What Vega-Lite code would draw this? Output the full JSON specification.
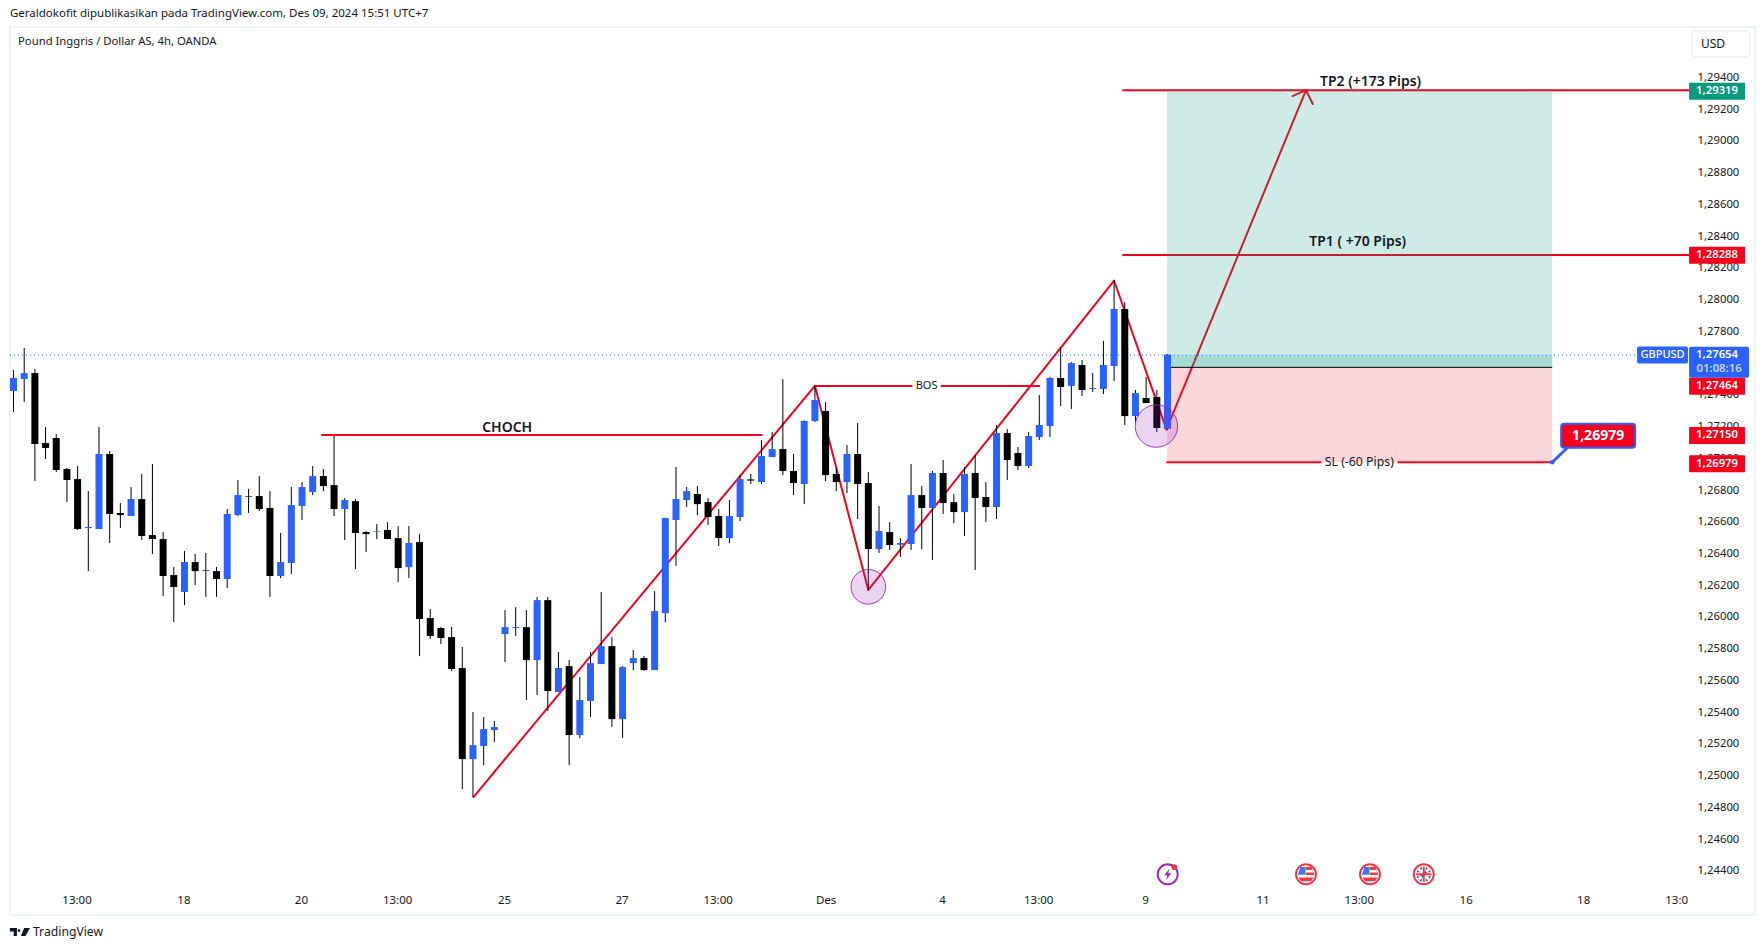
{
"$schema":"https://vega.github.io/schema/vega-lite/v6.json",
"width":1745,"height":888,
"autosize":{"type":"none"},
"padding":{"left":10,"top":27,"right":9,"bottom":35},
"background":"#ffffff",
"config":{"view":{"stroke":"#f0f3fa","strokeWidth":2},"font":"Noto Sans","text":{"font":"Noto Sans"}},
"resolve":{"scale":{"color":"independent"}},
"datasets":{
"candles":[
{"i":0,"o":1.27424,"h":1.27556,"l":1.27292,"c":1.27506},
{"i":1,"o":1.275,"h":1.27695,"l":1.27355,"c":1.27537},
{"i":2,"o":1.27537,"h":1.27563,"l":1.26857,"c":1.2709},
{"i":3,"o":1.27096,"h":1.27197,"l":1.26995,"c":1.27065},
{"i":4,"o":1.27128,"h":1.27153,"l":1.26913,"c":1.26926},
{"i":5,"o":1.26932,"h":1.26939,"l":1.26724,"c":1.26863},
{"i":6,"o":1.26869,"h":1.26951,"l":1.26548,"c":1.26554},
{"i":7,"o":1.2656,"h":1.26794,"l":1.26289,"c":1.26567},
{"i":8,"o":1.26554,"h":1.27197,"l":1.26554,"c":1.27027},
{"i":9,"o":1.27027,"h":1.27046,"l":1.26466,"c":1.26649},
{"i":10,"o":1.26655,"h":1.26718,"l":1.2656,"c":1.26642},
{"i":11,"o":1.26636,"h":1.26819,"l":1.26636,"c":1.26743},
{"i":12,"o":1.26743,"h":1.26901,"l":1.26485,"c":1.2651},
{"i":13,"o":1.26516,"h":1.26964,"l":1.26397,"c":1.26491},
{"i":14,"o":1.26491,"h":1.26535,"l":1.26132,"c":1.26258},
{"i":15,"o":1.26264,"h":1.26315,"l":1.25968,"c":1.26189},
{"i":16,"o":1.26157,"h":1.26416,"l":1.26075,"c":1.26346},
{"i":17,"o":1.26346,"h":1.26397,"l":1.26201,"c":1.26289},
{"i":18,"o":1.26296,"h":1.26403,"l":1.26126,"c":1.26292},
{"i":19,"o":1.26289,"h":1.26315,"l":1.26126,"c":1.26239},
{"i":20,"o":1.26239,"h":1.2668,"l":1.26182,"c":1.26649},
{"i":21,"o":1.26642,"h":1.26863,"l":1.26636,"c":1.26768},
{"i":22,"o":1.26762,"h":1.26806,"l":1.26655,"c":1.26758},
{"i":23,"o":1.26762,"h":1.26888,"l":1.26668,"c":1.2668},
{"i":24,"o":1.26687,"h":1.26794,"l":1.26126,"c":1.26258},
{"i":25,"o":1.26258,"h":1.26529,"l":1.26245,"c":1.26346},
{"i":26,"o":1.2634,"h":1.26819,"l":1.26271,"c":1.26705},
{"i":27,"o":1.26699,"h":1.2685,"l":1.26611,"c":1.26819},
{"i":28,"o":1.26787,"h":1.26951,"l":1.26768,"c":1.26888},
{"i":29,"o":1.26888,"h":1.26932,"l":1.26793,"c":1.26825},
{"i":30,"o":1.26831,"h":1.2714,"l":1.26636,"c":1.2668},
{"i":31,"o":1.2668,"h":1.26749,"l":1.26485,"c":1.26737},
{"i":32,"o":1.2673,"h":1.26743,"l":1.26302,"c":1.26529},
{"i":33,"o":1.26535,"h":1.26541,"l":1.26409,"c":1.26522},
{"i":34,"o":1.26537,"h":1.26585,"l":1.26491,"c":1.26541},
{"i":35,"o":1.26548,"h":1.26598,"l":1.26491,"c":1.26491},
{"i":36,"o":1.26497,"h":1.26573,"l":1.2622,"c":1.26308},
{"i":37,"o":1.26314,"h":1.26573,"l":1.26245,"c":1.26466},
{"i":38,"o":1.26472,"h":1.26522,"l":1.25753,"c":1.25987},
{"i":39,"o":1.25993,"h":1.2605,"l":1.25861,"c":1.2588},
{"i":40,"o":1.2593,"h":1.25936,"l":1.25829,"c":1.25867},
{"i":41,"o":1.25873,"h":1.25936,"l":1.25659,"c":1.25672},
{"i":42,"o":1.25678,"h":1.2581,"l":1.24915,"c":1.25104},
{"i":43,"o":1.25104,"h":1.254,"l":1.24865,"c":1.25192},
{"i":44,"o":1.25186,"h":1.25369,"l":1.25066,"c":1.25293},
{"i":45,"o":1.25287,"h":1.25344,"l":1.25211,"c":1.25306},
{"i":46,"o":1.25892,"h":1.26043,"l":1.25716,"c":1.25936},
{"i":47,"o":1.2593,"h":1.26062,"l":1.2588,"c":1.25936},
{"i":48,"o":1.25936,"h":1.26043,"l":1.25476,"c":1.25728},
{"i":49,"o":1.25728,"h":1.26125,"l":1.25508,"c":1.26106},
{"i":50,"o":1.26106,"h":1.26125,"l":1.25407,"c":1.25533},
{"i":51,"o":1.25527,"h":1.25779,"l":1.25527,"c":1.25678},
{"i":52,"o":1.2569,"h":1.25728,"l":1.25066,"c":1.25256},
{"i":53,"o":1.25256,"h":1.25621,"l":1.25237,"c":1.25476},
{"i":54,"o":1.2547,"h":1.25779,"l":1.25369,"c":1.25709},
{"i":55,"o":1.25703,"h":1.26157,"l":1.25703,"c":1.25816},
{"i":56,"o":1.25816,"h":1.25873,"l":1.25306,"c":1.25356},
{"i":57,"o":1.25356,"h":1.2569,"l":1.25237,"c":1.25684},
{"i":58,"o":1.25709,"h":1.25791,"l":1.25665,"c":1.25741},
{"i":59,"o":1.25741,"h":1.25753,"l":1.25659,"c":1.25665},
{"i":60,"o":1.25665,"h":1.26163,"l":1.25665,"c":1.26037},
{"i":61,"o":1.26024,"h":1.26625,"l":1.25968,"c":1.26623},
{"i":62,"o":1.26611,"h":1.26945,"l":1.26321,"c":1.26743},
{"i":63,"o":1.26737,"h":1.26819,"l":1.26693,"c":1.26793},
{"i":64,"o":1.26775,"h":1.26825,"l":1.26642,"c":1.26711},
{"i":65,"o":1.26724,"h":1.26749,"l":1.26579,"c":1.2663},
{"i":66,"o":1.26636,"h":1.2668,"l":1.26447,"c":1.26497},
{"i":67,"o":1.26497,"h":1.26737,"l":1.26466,"c":1.26636},
{"i":68,"o":1.2663,"h":1.26894,"l":1.26604,"c":1.26869},
{"i":69,"o":1.26867,"h":1.26901,"l":1.26838,"c":1.26859},
{"i":70,"o":1.2685,"h":1.27115,"l":1.26838,"c":1.27014},
{"i":71,"o":1.27008,"h":1.27165,"l":1.27008,"c":1.27058},
{"i":72,"o":1.27058,"h":1.27499,"l":1.26894,"c":1.2692},
{"i":73,"o":1.2692,"h":1.27027,"l":1.26768,"c":1.26844},
{"i":74,"o":1.26838,"h":1.27239,"l":1.26711,"c":1.27235},
{"i":75,"o":1.27235,"h":1.27455,"l":1.27228,"c":1.27367},
{"i":76,"o":1.27298,"h":1.27354,"l":1.26856,"c":1.26894},
{"i":77,"o":1.26901,"h":1.26936,"l":1.26793,"c":1.2685},
{"i":78,"o":1.2685,"h":1.27083,"l":1.26781,"c":1.27027},
{"i":79,"o":1.27027,"h":1.27222,"l":1.26617,"c":1.26838},
{"i":80,"o":1.26844,"h":1.26913,"l":1.2617,"c":1.26428},
{"i":81,"o":1.26428,"h":1.26699,"l":1.26403,"c":1.26542},
{"i":82,"o":1.26535,"h":1.26598,"l":1.26422,"c":1.26453},
{"i":83,"o":1.26455,"h":1.26497,"l":1.26378,"c":1.26466},
{"i":84,"o":1.2646,"h":1.26964,"l":1.26422,"c":1.26768},
{"i":85,"o":1.26768,"h":1.26825,"l":1.26428,"c":1.26687},
{"i":86,"o":1.26687,"h":1.2692,"l":1.26359,"c":1.26907},
{"i":87,"o":1.26907,"h":1.26989,"l":1.26649,"c":1.26718},
{"i":88,"o":1.26724,"h":1.26775,"l":1.26592,"c":1.26661},
{"i":89,"o":1.26661,"h":1.26945,"l":1.2651,"c":1.26901},
{"i":90,"o":1.26907,"h":1.27021,"l":1.26296,"c":1.2675},
{"i":91,"o":1.26756,"h":1.2685,"l":1.26598,"c":1.26693},
{"i":92,"o":1.26693,"h":1.2721,"l":1.26617,"c":1.27159},
{"i":93,"o":1.27159,"h":1.27184,"l":1.26863,"c":1.26989},
{"i":94,"o":1.27033,"h":1.27071,"l":1.26926,"c":1.26951},
{"i":95,"o":1.26951,"h":1.27166,"l":1.26939,"c":1.2714},
{"i":96,"o":1.27134,"h":1.27399,"l":1.27115,"c":1.2721},
{"i":97,"o":1.27203,"h":1.27512,"l":1.27134,"c":1.27506},
{"i":98,"o":1.27506,"h":1.27701,"l":1.27329,"c":1.27449},
{"i":99,"o":1.27456,"h":1.27607,"l":1.27311,"c":1.276},
{"i":100,"o":1.27588,"h":1.27619,"l":1.27392,"c":1.2743},
{"i":101,"o":1.27437,"h":1.27537,"l":1.27418,"c":1.27443},
{"i":102,"o":1.27437,"h":1.27739,"l":1.27405,"c":1.27588},
{"i":103,"o":1.27582,"h":1.28124,"l":1.27487,"c":1.27941},
{"i":104,"o":1.27941,"h":1.27985,"l":1.2721,"c":1.27266},
{"i":105,"o":1.27266,"h":1.2743,"l":1.27229,"c":1.27411},
{"i":106,"o":1.2738,"h":1.27512,"l":1.27348,"c":1.27348},
{"i":107,"o":1.27386,"h":1.2743,"l":1.27166,"c":1.27191},
{"i":108,"o":1.27185,"h":1.27657,"l":1.27178,"c":1.27654}
],
"redLines":[
{"i":28.87,"i2":70.02,"p":1.27146,"p2":1.27146},
{"i":43.05,"i2":75,"p":1.24865,"p2":1.27456},
{"i":75,"i2":80,"p":1.27456,"p2":1.2617},
{"i":80,"i2":103,"p":1.2617,"p2":1.28119},
{"i":103,"i2":107.9,"p":1.28119,"p2":1.27182},
{"i":75,"i2":84.05,"p":1.27456,"p2":1.27456},
{"i":86.85,"i2":96,"p":1.27456,"p2":1.27456},
{"i":103.84,"i2":156.8,"p":1.2932,"p2":1.2932},
{"i":103.84,"i2":156.8,"p":1.28282,"p2":1.28282},
{"i":107.96,"i2":122.3,"p":1.26975,"p2":1.26975},
{"i":129.6,"i2":144,"p":1.26975,"p2":1.26975},
{"i":107.9,"i2":120.96,"p":1.27182,"p2":1.2932},
{"i":119.7,"i2":120.96,"p":1.29283,"p2":1.2932},
{"i":121.6,"i2":120.96,"p":1.29233,"p2":1.2932}
],
"zones":[
{"i":107.96,"i2":144,"p":1.2932,"p2":1.27573,"zone":"profit"},
{"i":107.96,"i2":144,"p":1.2765,"p2":1.27573,"zone":"active"},
{"i":107.96,"i2":144,"p":1.27573,"p2":1.26975,"zone":"loss"}
],
"circles":[
{"i":80,"p":1.2619,"r":"a"},
{"i":106.96,"p":1.27203,"r":"b"}
],
"badges":[
{"i":159.43,"p":1.29313,"t":"1,29319","k":"tp"},
{"i":159.43,"p":1.28279,"t":"1,28288","k":"red"},
{"i":159.43,"p":1.27454,"t":"1,27464","k":"red"},
{"i":159.43,"p":1.27144,"t":"1,27150","k":"red"},
{"i":159.43,"p":1.26965,"t":"1,26979","k":"red"}
],
"icons":[{"i":120.96,"p":1.24378},{"i":126.95,"p":1.24378}],
"uk":[{"i":131.98,"p":1.24378}],
"spark":[{"i":108.02,"p":1.24378}]
},
"encoding":{
"x":{"field":"i","type":"quantitative","title":null,
 "scale":{"domain":[-0.328,162.98],"nice":false,"zero":false,"padding":0},
 "axis":{"values":[5.9,15.9,26.9,35.9,45.9,56.9,65.9,76,86.9,95.9,105.9,116.9,125.9,135.9,146.9,155.6],"domain":false,"ticks":false,"grid":false,"offset":-21,"labelPadding":0,"labelFontSize":11.5,"labelColor":"#131722","labelFont":"Noto Sans","labelOverlap":false,"labelBound":false,"labelFlush":false,
  "labelExpr":"({'5.9':'13:00','15.9':'18','26.9':'20','35.9':'13:00','45.9':'25','56.9':'27','65.9':'13:00','76':'Des','86.9':'4','95.9':'13:00','105.9':'9','116.9':'11','125.9':'13:00','135.9':'16','146.9':'18','155.6':'13:0'})[datum.value]"}},
"y":{"field":"p","type":"quantitative","title":null,
 "scale":{"domain":[1.241214,1.297183],"nice":false,"zero":false,"padding":0},
 "axis":{"orient":"right","offset":-58,"values":[1.244,1.246,1.248,1.25,1.252,1.254,1.256,1.258,1.26,1.262,1.264,1.266,1.268,1.27,1.272,1.274,1.276,1.278,1.28,1.282,1.284,1.286,1.288,1.29,1.292,1.294],"domain":false,"ticks":false,"grid":false,"labelPadding":0,"labelFontSize":11.3,"labelColor":"#131722","labelFont":"Noto Sans","labelOverlap":false,"labelBound":false,"labelExpr":"replace(format(datum.value,'.5f'),'.',',')"}}
},
"layer":[
{"data":{"name":"redLines"},"mark":{"type":"rule","color":"#f7001e","strokeWidth":2,"strokeCap":"round"},"encoding":{"x2":{"field":"i2"},"y2":{"field":"p2"}}},
{"data":{"name":"zones"},"mark":{"type":"rect","opacity":0.2},"encoding":{"x2":{"field":"i2"},"y2":{"field":"p2"},"color":{"field":"zone","type":"nominal","legend":null,"scale":{"domain":["profit","active","loss"],"range":["#089981","#089981","#f23645"]}}}},
{"data":{"values":[{"i":107.96,"i2":144,"p":1.27573}]},"mark":{"type":"rule","color":"#000000","strokeWidth":1},"encoding":{"x2":{"field":"i2"}}},
{"data":{"values":[{"i":-0.328,"i2":151.95,"p":1.2765}]},"mark":{"type":"rule","color":"#2962ff","strokeWidth":1,"strokeDash":[1,3]},"encoding":{"x2":{"field":"i2"}}},
{"data":{"name":"candles"},"mark":{"type":"rule","color":"#000000","strokeWidth":1},"encoding":{"y":{"field":"l","type":"quantitative","title":null,"scale":{"domain":[1.241214,1.297183],"nice":false,"zero":false,"padding":0},"axis":{"orient":"right","offset":-58,"values":[1.244,1.246,1.248,1.25,1.252,1.254,1.256,1.258,1.26,1.262,1.264,1.266,1.268,1.27,1.272,1.274,1.276,1.278,1.28,1.282,1.284,1.286,1.288,1.29,1.292,1.294],"domain":false,"ticks":false,"grid":false,"labelPadding":0,"labelFontSize":11.3,"labelColor":"#131722","labelFont":"Noto Sans","labelOverlap":false,"labelBound":false,"labelExpr":"replace(format(datum.value,'.5f'),'.',',')"}},"y2":{"field":"h"}}},
{"data":{"name":"candles"},"mark":{"type":"bar","size":7},"encoding":{"y":{"field":"o","type":"quantitative","title":null,"scale":{"domain":[1.241214,1.297183],"nice":false,"zero":false,"padding":0},"axis":{"orient":"right","offset":-58,"values":[1.244,1.246,1.248,1.25,1.252,1.254,1.256,1.258,1.26,1.262,1.264,1.266,1.268,1.27,1.272,1.274,1.276,1.278,1.28,1.282,1.284,1.286,1.288,1.29,1.292,1.294],"domain":false,"ticks":false,"grid":false,"labelPadding":0,"labelFontSize":11.3,"labelColor":"#131722","labelFont":"Noto Sans","labelOverlap":false,"labelBound":false,"labelExpr":"replace(format(datum.value,'.5f'),'.',',')"}},"y2":{"field":"c"},"color":{"condition":{"test":"datum.c>=datum.o","value":"#2962ff"},"value":"#000000"}}},
{"data":{"name":"circles"},"transform":[{"filter":"datum.r=='a'"}],"mark":{"type":"point","filled":false,"size":1197,"fill":"#9c27b0","fillOpacity":0.2,"stroke":"#9c27b0","strokeOpacity":0.9,"strokeWidth":1}},
{"data":{"name":"circles"},"transform":[{"filter":"datum.r=='b'"}],"mark":{"type":"point","filled":false,"size":1798,"fill":"#9c27b0","fillOpacity":0.2,"stroke":"#9c27b0","strokeOpacity":0.9,"strokeWidth":1}},
{"data":{"values":[
 {"i":46.2,"p":1.27194,"t":"CHOCH"},
 {"i":127,"p":1.29374,"t":"TP2 (+173 Pips)"},
 {"i":125.8,"p":1.28365,"t":"TP1 ( +70 Pips)"}
]},"mark":{"type":"text","fontSize":14,"fontWeight":600,"color":"#131722","font":"Noto Sans"},"encoding":{"text":{"field":"t"}}},
{"data":{"values":[
 {"i":85.45,"p":1.27456,"t":"BOS"}
]},"mark":{"type":"text","fontSize":11,"color":"#131722","font":"Noto Sans"},"encoding":{"text":{"field":"t"}}},
{"data":{"values":[
 {"i":125.95,"p":1.26975,"t":"SL (-60 Pips)"}
]},"mark":{"type":"text","fontSize":12.3,"color":"#131722","font":"Noto Sans"},"encoding":{"text":{"field":"t"}}},
{"data":{"values":[{"i":144,"i2":145.5,"p":1.26975,"p2":1.27071}]},"mark":{"type":"rule","color":"#2962ff","strokeWidth":3},"encoding":{"x2":{"field":"i2"},"y2":{"field":"p2"}}},
{"data":{"values":[{"i":144,"p":1.26975}]},"mark":{"type":"point","filled":true,"size":20,"color":"#2962ff","opacity":1}},
{"data":{"values":[{"i":148.3,"p":1.27142}]},"mark":{"type":"rect","width":74,"height":24,"fill":"#f7001e","stroke":"#2962ff","strokeWidth":2,"cornerRadius":3}},
{"data":{"values":[{"i":148.3,"p":1.27142,"t":"1,26979"}]},"mark":{"type":"text","fontSize":14,"fontWeight":"bold","color":"#ffffff","font":"Noto Sans"},"encoding":{"text":{"field":"t"}}},
{"data":{"values":[{"i":154.33,"p":1.27651}]},"mark":{"type":"rect","width":51,"height":17,"fill":"#2962ff","cornerRadius":2}},
{"data":{"values":[{"i":154.33,"p":1.27651,"t":"GBPUSD"}]},"mark":{"type":"text","fontSize":11,"fontWeight":500,"color":"#ffffff","font":"Noto Sans"},"encoding":{"text":{"field":"t"}}},
{"data":{"values":[{"i":159.62,"p":1.27605}]},"mark":{"type":"rect","width":60,"height":31,"fill":"#2962ff","cornerRadius":2}},
{"data":{"values":[{"i":159.43,"p":1.27653,"t":"1,27654"}]},"mark":{"type":"text","fontSize":11.3,"fontWeight":600,"color":"#ffffff","font":"Noto Sans"},"encoding":{"text":{"field":"t"}}},
{"data":{"values":[{"i":159.62,"p":1.27565,"t":"01:08:16"}]},"mark":{"type":"text","fontSize":11.3,"fontWeight":600,"color":"#c6d5ff","font":"Noto Sans"},"encoding":{"text":{"field":"t"}}},
{"data":{"name":"badges"},"mark":{"type":"rect","width":56,"height":17,"cornerRadius":1},"encoding":{"color":{"field":"k","type":"nominal","legend":null,"scale":{"domain":["tp","red"],"range":["#089981","#f7001e"]}}}},
{"data":{"name":"badges"},"mark":{"type":"text","fontSize":11.3,"fontWeight":600,"color":"#ffffff","font":"Noto Sans"},"encoding":{"text":{"field":"t"}}},
{"data":{"values":[{"i":159.8,"p":1.29611}]},"mark":{"type":"rect","width":58,"height":26,"fill":"#ffffff","stroke":"#e6e9f0","strokeWidth":1,"cornerRadius":4}},
{"data":{"values":[{"i":159.05,"p":1.29611,"t":"USD"}]},"mark":{"type":"text","fontSize":12,"color":"#131722","font":"Noto Sans"},"encoding":{"text":{"field":"t"}}},
{"data":{"values":[{"i":-0.33,"p":1.298,"t":"Geraldokofit dipublikasikan pada TradingView.com, Des 09, 2024 15:51 UTC+7"}]},"mark":{"type":"text","align":"left","fontSize":11.5,"color":"#131722","font":"Noto Sans"},"encoding":{"text":{"field":"t"}}},
{"data":{"values":[{"i":0.42,"p":1.29624,"t":"Pound Inggris / Dollar AS, 4h, OANDA"}]},"mark":{"type":"text","align":"left","fontSize":11.3,"color":"#131722","font":"Noto Sans"},"encoding":{"text":{"field":"t"}}},
{"data":{"values":[{"i":1.82,"p":1.24014,"t":"TradingView"}]},"mark":{"type":"text","align":"left","fontSize":12.2,"color":"#131722","font":"Noto Sans"},"encoding":{"text":{"field":"t"}}},
{"data":{"values":[{"i":0.6,"p":1.24014}]},"mark":{"type":"point","filled":true,"opacity":1,"size":400,"color":"#131722","shape":"M-1-.4H-.3V.4H-.62V-.05H-1ZM.05-.15A.14.14 0 1 1 -.23-.15A.14.14 0 1 1 .05-.15ZM.42-.4H1L.55.4H.1Z"}},
{"data":{"name":"spark"},"mark":{"type":"point","filled":false,"size":400,"fill":"#ffffff","stroke":"#9c27b0","strokeWidth":2,"opacity":1}},
{"data":{"name":"spark"},"mark":{"type":"point","filled":true,"opacity":1,"size":400,"color":"#9c27b0","shape":"M.15-.55L-.35.1H-.05L-.15.55L.35-.1H.05Z"}},
{"data":{"name":"spark"},"mark":{"type":"point","filled":true,"opacity":1,"size":400,"color":"#f23645","shape":"M.96-.7A.3.3 0 1 1 .36-.7A.3.3 0 1 1 .96-.7Z"}},
{"data":{"name":"icons"},"mark":{"type":"point","filled":false,"size":400,"fill":"#ffffff","stroke":"#f23645","strokeWidth":2,"opacity":1}},
{"data":{"name":"icons"},"mark":{"type":"point","filled":true,"opacity":1,"size":400,"color":"#f23645","shape":"M0-.72H.55L.7-.42H0ZM0-.18H.8V.08H0ZM-.75.32H.75L.5.7H-.5Z"}},
{"data":{"name":"icons"},"mark":{"type":"point","filled":true,"opacity":1,"size":400,"color":"#2f7cf6","shape":"M-.55-.72H-.05V.05H-.82Z"}},
{"data":{"name":"uk"},"mark":{"type":"point","filled":false,"size":400,"fill":"#ffffff","stroke":"#f23645","strokeWidth":2,"opacity":1}},
{"data":{"name":"uk"},"mark":{"type":"point","filled":true,"opacity":1,"size":225,"color":"#2a55b8"}},
{"data":{"name":"uk"},"mark":{"type":"point","filled":true,"opacity":1,"size":400,"color":"#ffffff","shape":"M-.62-.42L-.42-.62L.62.42L.42.62ZM.62-.42L.42-.62L-.62.42L-.42.62ZM-.2-.75H.2V-.2H.75V.2H.2V.75H-.2V.2H-.75V-.2H-.2Z"}},
{"data":{"name":"uk"},"mark":{"type":"point","filled":true,"opacity":1,"size":400,"color":"#f23645","shape":"M-.1-.75H.1V-.1H.75V.1H.1V.75H-.1V.1H-.75V-.1H-.1Z"}}
]
}
